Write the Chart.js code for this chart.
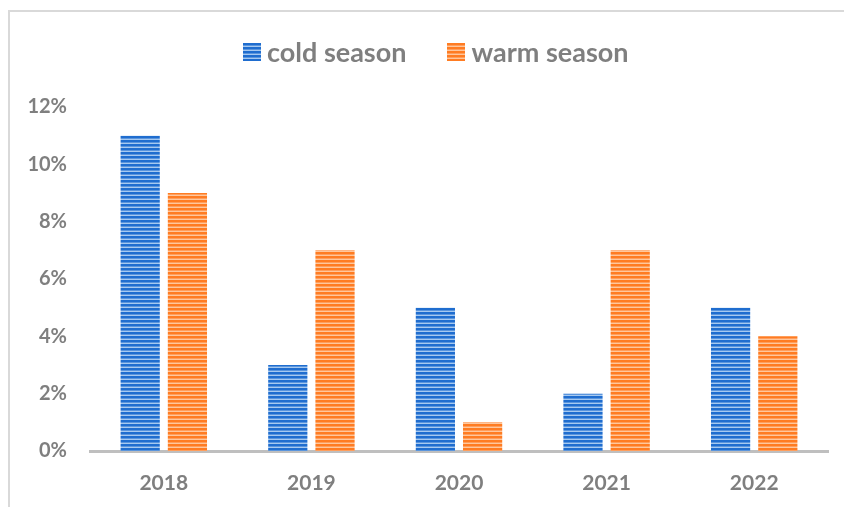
<!DOCTYPE html>
<html>
<head>
<meta charset="utf-8">
<script src="https://cdn.jsdelivr.net/npm/chart.js@4/dist/chart.umd.min.js"></script>
<style>
  html, body { margin: 0; padding: 0; background: #fff; }
  body { width: 844px; height: 507px; position: relative; overflow: hidden; font-family: Lato, sans-serif; }
  #frame {
    position: absolute; left: 8px; top: 10px; width: 860px; height: 520px;
    border-left: 2px solid #d9d9d9; border-top: 2px solid #d9d9d9;
  }
  #wrap { position: absolute; left: 0; top: 0; width: 844px; height: 507px; }
  #legend {
    position: absolute; left: 243px; top: 34px; height: 36px;
    display: flex; align-items: center; white-space: nowrap;
  }
  .item { display: flex; align-items: center; margin-right: 41px; }
  .box { width: 18px; height: 18px; margin-right: 6px; }
  .txt { color: #7f7f7f; font-weight: bold; font-size: 27px; line-height: 36px; }
</style>
</head>
<body>
<div id="frame"></div>
<div id="wrap"><canvas id="chart" width="844" height="507"></canvas></div>
<div id="legend"></div>
<script>
const years = ['2018', '2019', '2020', '2021', '2022'];
const coldSeason = [11, 3, 5, 2, 5];
const warmSeason = [9, 7, 1, 7, 4];
const yTicks = [0, 2, 4, 6, 8, 10, 12];

const blueCols = ['#1f6dcf', '#1f6dcf', '#5a95dd', '#a6c9f0'];
const orangeCols = ['#ff7c22', '#ff7c22', '#ff9e5c', '#ffc79c'];

// horizontal stripe fill, 4px repeat
function stripes(cols) {
  const c = document.createElement('canvas');
  c.width = 4; c.height = 4;
  const g = c.getContext('2d');
  cols.forEach((col, i) => {
    g.fillStyle = col;
    g.fillRect(0, i, 4, 1);
  });
  return g.createPattern(c, 'repeat');
}
function stripesCss(cols) {
  return 'repeating-linear-gradient(to bottom,' +
    cols.map((c, i) => `${c} ${i}px, ${c} ${i + 1}px`).join(',') + ')';
}

const series = [
  { label: 'cold season', data: coldSeason, cols: blueCols },
  { label: 'warm season', data: warmSeason, cols: orangeCols }
];

// legend as plain html
document.getElementById('legend').innerHTML = series.map(s => `
  <div class="item">
    <div class="box" style="background:${stripesCss(s.cols)}"></div>
    <span class="txt">${s.label}</span>
  </div>`).join('');

const gray = '#7f7f7f';
const ctx = document.getElementById('chart').getContext('2d');

new Chart(ctx, {
  type: 'bar',
  data: {
    labels: years,
    datasets: series.map(s => ({
      label: s.label, data: s.data, backgroundColor: stripes(s.cols), borderWidth: 0
    }))
  },
  options: {
    responsive: false,
    animation: false,
    datasets: { bar: { categoryPercentage: 0.64, barPercentage: 0.83 } },
    layout: { padding: { top: 107, right: 16, left: 0, bottom: 0 } },
    plugins: {
      tooltip: { enabled: false },
      legend: { display: false }
    },
    scales: {
      x: {
        grid: { display: false },
        border: { color: '#bfbfbf', width: 3 },
        ticks: { color: gray, font: { family: 'Lato', size: 21, weight: 'bold' }, padding: 12 },
        afterFit: s => { s.height = 56; }
      },
      y: {
        min: 0, max: 12,
        afterBuildTicks: s => { s.ticks = yTicks.map(v => ({ value: v })); },
        grid: { display: false },
        border: { display: false },
        ticks: {
          color: gray,
          font: { family: 'Lato', size: 20, weight: 'bold' },
          padding: 15,
          callback: v => v + '%'
        },
        afterFit: s => { s.width = 90; }
      }
    }
  }
});
</script>
</body>
</html>
